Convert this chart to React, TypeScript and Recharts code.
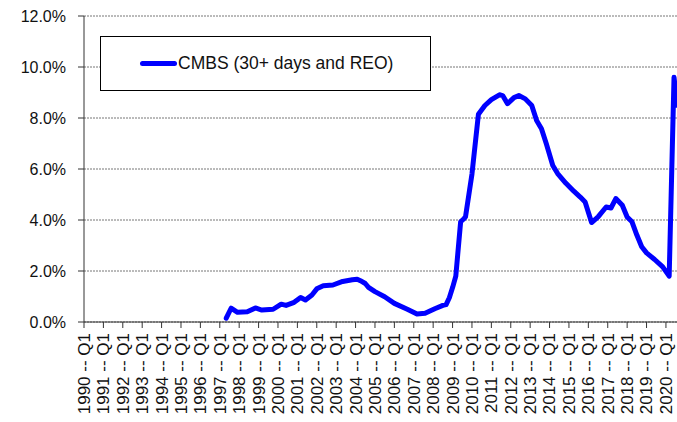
import {
    LineChart,
    Line,
    XAxis,
    YAxis,
    CartesianGrid,
    Legend
} from "recharts";

const months = [
    "1997-05", "1997-08", "1997-12", "1998-06", "1998-11", "1999-03", "1999-10",
    "2000-03", "2000-06", "2000-11", "2001-03", "2001-06", "2001-10", "2002-01",
    "2002-05", "2002-11", "2003-05", "2003-11", "2004-02", "2004-04", "2004-07",
    "2004-09", "2005-01", "2005-07", "2006-01", "2006-09", "2007-03", "2007-08",
    "2008-02", "2008-07", "2008-09", "2008-11", "2009-01", "2009-03", "2009-06",
    "2009-08", "2009-09", "2010-01", "2010-05", "2010-09", "2011-01", "2011-06",
    "2011-08", "2011-11", "2012-03", "2012-06", "2012-10", "2013-02", "2013-05",
    "2013-08", "2013-11", "2014-03", "2014-06", "2014-11", "2015-04", "2015-08",
    "2015-11", "2016-03", "2016-07", "2016-12", "2017-03", "2017-06", "2017-10",
    "2018-01", "2018-04", "2018-07", "2018-10", "2019-01", "2019-06", "2019-11",
    "2020-03", "2020-06", "2020-08"
];
const cmbsRate = [
    0.15, 0.54, 0.38, 0.40, 0.55, 0.47, 0.50,
    0.70, 0.65, 0.77, 0.96, 0.86, 1.06, 1.30,
    1.42, 1.45, 1.59, 1.66, 1.68, 1.62, 1.51,
    1.36, 1.19, 0.99, 0.73, 0.50, 0.31, 0.34,
    0.52, 0.65, 0.68, 0.95, 1.35, 1.80, 3.93,
    4.05, 4.12, 5.80, 8.15, 8.49, 8.72, 8.91,
    8.88, 8.56, 8.80, 8.88, 8.75, 8.49, 7.90,
    7.58, 6.99, 6.14, 5.82, 5.45, 5.13, 4.90,
    4.71, 3.90, 4.12, 4.51, 4.47, 4.84, 4.58,
    4.12, 3.93, 3.41, 2.95, 2.71, 2.45, 2.16,
    1.80, 9.60, 8.50
];

const tickYears = Array.from({length: 31}, (_, i) => 1990 + i);
const yTicks = [0, 2, 4, 6, 8, 10, 12];
const seriesName = "CMBS (30+ days and REO)";

const data = months.map((m, i) => {
    const [yr, mo] = m.split("-").map(Number);
    return {t: yr + (mo - 1) / 12, rate: cmbsRate[i]};
});

const FONT = "'Liberation Sans', Arial, sans-serif";

function YearTick({x, y, payload}: any) {
    return (
        <text
            x={x}
            y={y + 3}
            dy="0.35em"
            transform={`rotate(-90, ${x}, ${y + 3})`}
            textAnchor="end"
            fontSize={17}
            fontFamily={FONT}
            fill="#111"
        >
            {`${payload.value} -- Q1`}
        </text>
    );
}

function LegendBox() {
    return (
        <div style={{
            boxSizing: "border-box",
            width: "100%",
            height: "100%",
            border: "1px solid #000",
            background: "#fff",
            display: "flex",
            alignItems: "center",
            paddingLeft: 39,
            fontFamily: FONT,
            fontSize: 17.5,
            color: "#111",
        }}>
            <span style={{
                display: "inline-block",
                width: 37,
                height: 5,
                borderRadius: 3,
                background: "#0000ff",
                marginRight: 1,
            }}/>
            {seriesName}
        </div>
    );
}

export default function App() {
    return (
        <div style={{position: "absolute", left: 0, top: 0, background: "#fff"}}>
            <LineChart
                width={677}
                height={422}
                data={data}
                margin={{top: 16, right: 0, bottom: 0, left: 0}}
            >
                <CartesianGrid
                    horizontal={true}
                    vertical={false}
                    stroke="#777"
                    strokeDasharray="2 1"
                />
                <XAxis
                    dataKey="t"
                    type="number"
                    domain={[1990, 2020.57]}
                    allowDataOverflow
                    ticks={tickYears}
                    interval={0}
                    height={100}
                    tickSize={6}
                    stroke="#333"
                    tick={<YearTick/>}
                />
                <YAxis
                    domain={[0, 12]}
                    ticks={yTicks}
                    width={84}
                    tickSize={6}
                    tickMargin={12}
                    stroke="#333"
                    tick={{fill: "#111", fontSize: 16, fontFamily: FONT}}
                    tickFormatter={(v: number) => `${v.toFixed(1)}%`}
                />
                <Legend
                    verticalAlign="middle"
                    align="center"
                    content={<LegendBox/>}
                    wrapperStyle={{left: 100, top: 36, width: 331, height: 55}}
                />
                <Line
                    type="linear"
                    dataKey="rate"
                    name={seriesName}
                    stroke="#0000ff"
                    strokeWidth={5}
                    strokeLinejoin="round"
                    strokeLinecap="round"
                    dot={false}
                    isAnimationActive={false}
                />
            </LineChart>
        </div>
    );
}
